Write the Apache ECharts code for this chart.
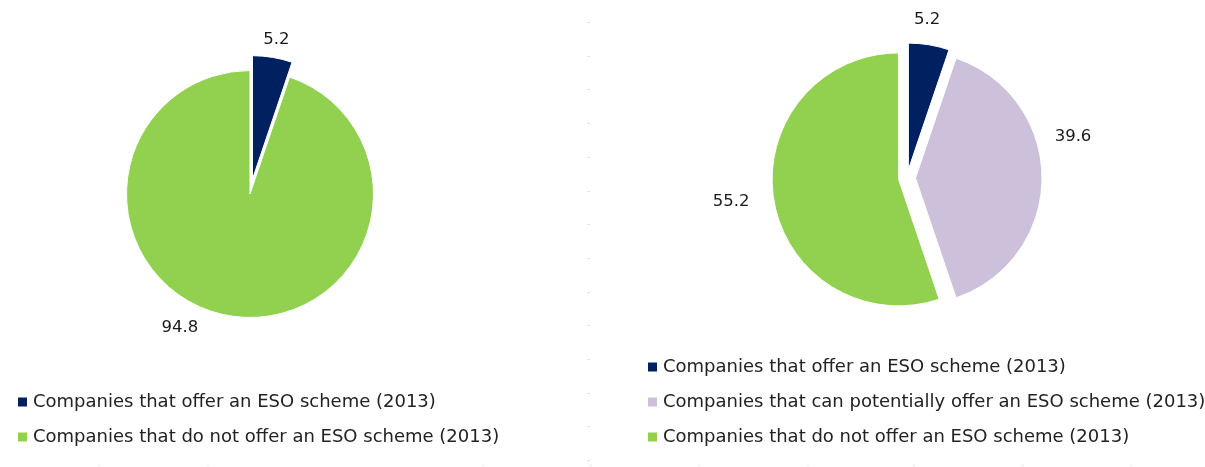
<!DOCTYPE html>
<html>
<head>
<meta charset="utf-8">
<style>
  html, body { margin: 0; padding: 0; background: #ffffff; }
  #chart { width: 1205px; height: 467px; }
</style>
<script src="https://cdn.jsdelivr.net/npm/echarts@6/dist/echarts.min.js"></script>
</head>
<body>
<div id="chart"></div>
<script>
// ---- Data ----
const catOffer = 'Companies that offer an ESO scheme (2013)';
const catPotential = 'Companies that can potentially offer an ESO scheme (2013)';
const catNotOffer = 'Companies that do not offer an ESO scheme (2013)';

const leftCategories = [catOffer, catNotOffer];
const leftValues = [5.2, 94.8];

const rightCategories = [catOffer, catPotential, catNotOffer];
const rightValues = [5.2, 39.6, 55.2];

// ---- Styles ----
const colorMap = {};
colorMap[catOffer] = '#002060';
colorMap[catPotential] = '#ccc0da';
colorMap[catNotOffer] = '#92d050';

const FONT = 'DejaVu Sans, Verdana, sans-serif';

// label nudges (styling of label placement, px)
const leftLabelNudge = [[-4, 0], [-42, -6]];
const rightLabelNudge = [[-11, 0], [1, -41], [-13, -2]];

function buildData(cats, vals, selectedFlags) {
  return cats.map((c, i) => ({
    name: c,
    value: vals[i],
    selected: selectedFlags[i],
    itemStyle: { color: colorMap[c] }
  }));
}

function pieSeries(cats, vals, selectedFlags, center, radius, offset, labelLen, nudges) {
  return {
    type: 'pie',
    center: center,
    radius: radius,
    startAngle: 90,
    clockwise: true,
    silent: true,
    selectedMode: 'multiple',
    selectedOffset: offset,
    avoidLabelOverlap: false,
    itemStyle: { borderColor: '#ffffff', borderWidth: 1 },
    select: { itemStyle: { borderColor: '#ffffff', borderWidth: 1 } },
    emphasis: { scale: false },
    label: {
      show: true,
      position: 'outside',
      formatter: p => p.value.toFixed(1),
      fontFamily: FONT,
      fontSize: 16.5,
      color: '#1a1a1a'
    },
    labelLine: { show: false, length: labelLen, length2: 0 },
    labelLayout: function (params) {
      const n = nudges[params.dataIndex] || [0, 0];
      return { align: 'center', verticalAlign: 'middle', dx: n[0], dy: n[1] };
    },
    data: buildData(cats, vals, selectedFlags)
  };
}

const chart = echarts.init(document.getElementById('chart'), null, { renderer: 'canvas' });

// faint decorative dotted guides seen in the reference
const guideDots = [];
for (let y = 22; y <= 461; y += 33.7) {
  guideDots.push({ type: 'rect', shape: { x: 587, y: Math.round(y), width: 3, height: 1 }, style: { fill: '#e3e3e3' }, silent: true });
}
[98, 207, 482, 590, 698, 807, 913, 1022, 1130].forEach(x => {
  guideDots.push({ type: 'rect', shape: { x: x, y: 465, width: 2, height: 1 }, style: { fill: '#e3e3e3' }, silent: true });
});

const legendText = { fontFamily: FONT, fontSize: 18, color: '#222222', lineHeight: 20 };

const legendBase = {
  orient: 'vertical',
  padding: 0,
  itemWidth: 11,
  itemHeight: 11,
  itemGap: 15,
  icon: 'rect',
  selectedMode: false,
  textStyle: legendText
};

chart.setOption({
  animation: false,
  backgroundColor: '#ffffff',
  graphic: guideDots,
  legend: [
    Object.assign({}, legendBase, { left: 16, top: 392, data: leftCategories }),
    Object.assign({}, legendBase, { left: 646, top: 357, data: rightCategories })
  ],
  series: [
    pieSeries(leftCategories, leftValues, [true, false], [250, 194], 123.5, 15, 18, leftLabelNudge),
    pieSeries(rightCategories, rightValues, [true, true, true], [907, 178], 126.5, 8.5, 25, rightLabelNudge)
  ]
});
</script>
</body>
</html>
